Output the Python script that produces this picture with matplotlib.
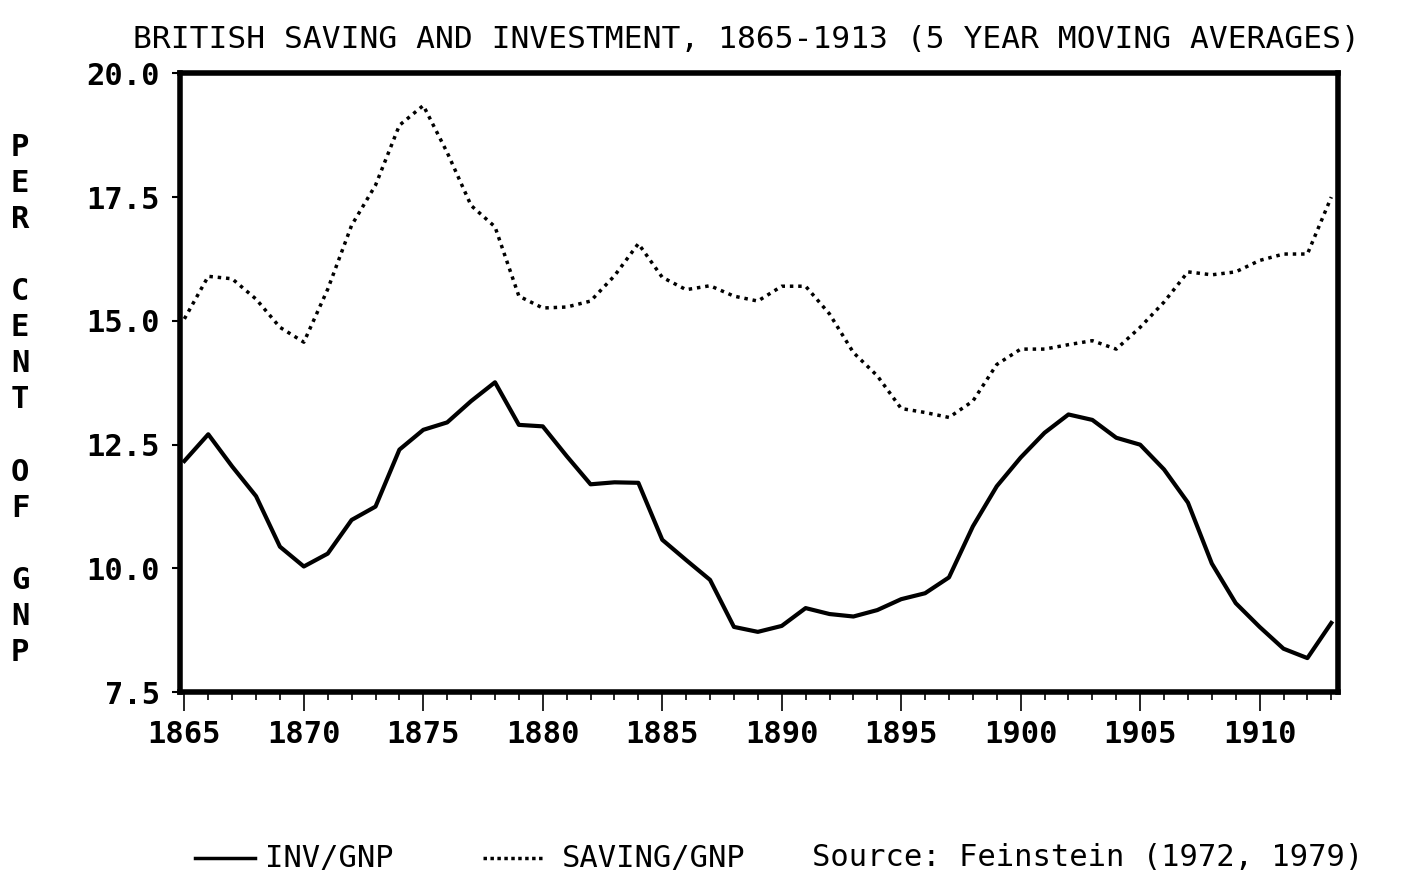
import numpy as np
import matplotlib.pyplot as plt
from matplotlib.lines import Line2D
from matplotlib.ticker import MultipleLocator

# data (per cent of GNP, 5 year moving averages)
years = list(range(1865, 1914))
inv_gnp = [12.17, 12.71, 12.06, 11.46, 10.44, 10.04, 10.30, 10.98, 11.25, 12.40,
           12.80, 12.95, 13.38, 13.76, 12.90, 12.87, 12.27, 11.70, 11.74, 11.73,
           10.58, 10.17, 9.77, 8.82, 8.72, 8.84, 9.20, 9.08, 9.03, 9.16,
           9.38, 9.50, 9.82, 10.85, 11.66, 12.24, 12.74, 13.11, 13.00, 12.64,
           12.50, 12.00, 11.33, 10.10, 9.30, 8.82, 8.38, 8.19, 8.90]
saving_gnp = [15.04, 15.90, 15.85, 15.44, 14.87, 14.57, 15.64, 16.93, 17.74, 18.95,
              19.35, 18.40, 17.33, 16.90, 15.50, 15.26, 15.28, 15.40, 15.91, 16.56,
              15.88, 15.63, 15.71, 15.50, 15.40, 15.70, 15.70, 15.14, 14.36, 13.89,
              13.23, 13.15, 13.05, 13.38, 14.12, 14.43, 14.43, 14.52, 14.60, 14.43,
              14.87, 15.38, 15.99, 15.93, 15.99, 16.22, 16.35, 16.35, 17.50]
xtick_years = list(range(1865, 1911, 5))
ytick_vals = [7.5, 10.0, 12.5, 15.0, 17.5, 20.0]

font = 'DejaVu Sans Mono'
plt.rcParams['font.family'] = font

fig = plt.figure(figsize=(14.03, 8.83), dpi=100)
ax = fig.add_axes([0.128, 0.216, 0.826, 0.701])

ax.plot(years, inv_gnp, color='black', lw=3)
ax.plot(years, saving_gnp, color='black', lw=2.5,
        linestyle=(0, (1, 1.4)), dash_capstyle='butt')

ax.set_xlim(1864.8, 1913.3)
ax.set_ylim(7.5, 20.0)
ax.set_xticks(xtick_years)
ax.xaxis.set_minor_locator(MultipleLocator(1))
ax.set_yticks(ytick_vals)
ax.set_yticklabels(['%.1f' % v for v in ytick_vals])

for s in ax.spines.values():
    s.set_linewidth(4)
ax.tick_params(axis='x', which='major', length=14, width=1.2, pad=6,
               labelsize=22)
ax.tick_params(axis='x', which='minor', length=6, width=1.2)
ax.tick_params(axis='y', which='major', length=6, width=1.5, pad=8,
               labelsize=22)
for lab in ax.get_xticklabels() + ax.get_yticklabels():
    lab.set_fontweight('bold')

fig.text(746 / 1403, 1 - 40 / 883,
         'BRITISH SAVING AND INVESTMENT, 1865-1913 (5 YEAR MOVING AVERAGES)',
         ha='center', va='center', fontsize=22.5)

# vertical stacked y label
fig.text(20 / 1403, 1 - 400 / 883, '\n'.join('PER CENT OF GNP'),
         ha='center', va='center', fontsize=22, fontweight='bold', linespacing=1.31)

# legend row at the bottom
ly = 1 - 858 / 883
fig.add_artist(Line2D([195 / 1403, 255 / 1403], [ly, ly], color='black', lw=2.5))
fig.text(265 / 1403, ly, 'INV/GNP', ha='left', va='center', fontsize=22)
fig.add_artist(Line2D([483 / 1403, 545 / 1403], [ly, ly], color='black', lw=2.5,
                      linestyle=(0, (1, 1)), dash_capstyle='butt'))
fig.text(562 / 1403, ly, 'SAVING/GNP', ha='left', va='center', fontsize=22)
fig.text(812 / 1403, ly, 'Source: Feinstein (1972, 1979)', ha='left', va='center',
         fontsize=22)

fig.savefig('out.png', dpi=100)
